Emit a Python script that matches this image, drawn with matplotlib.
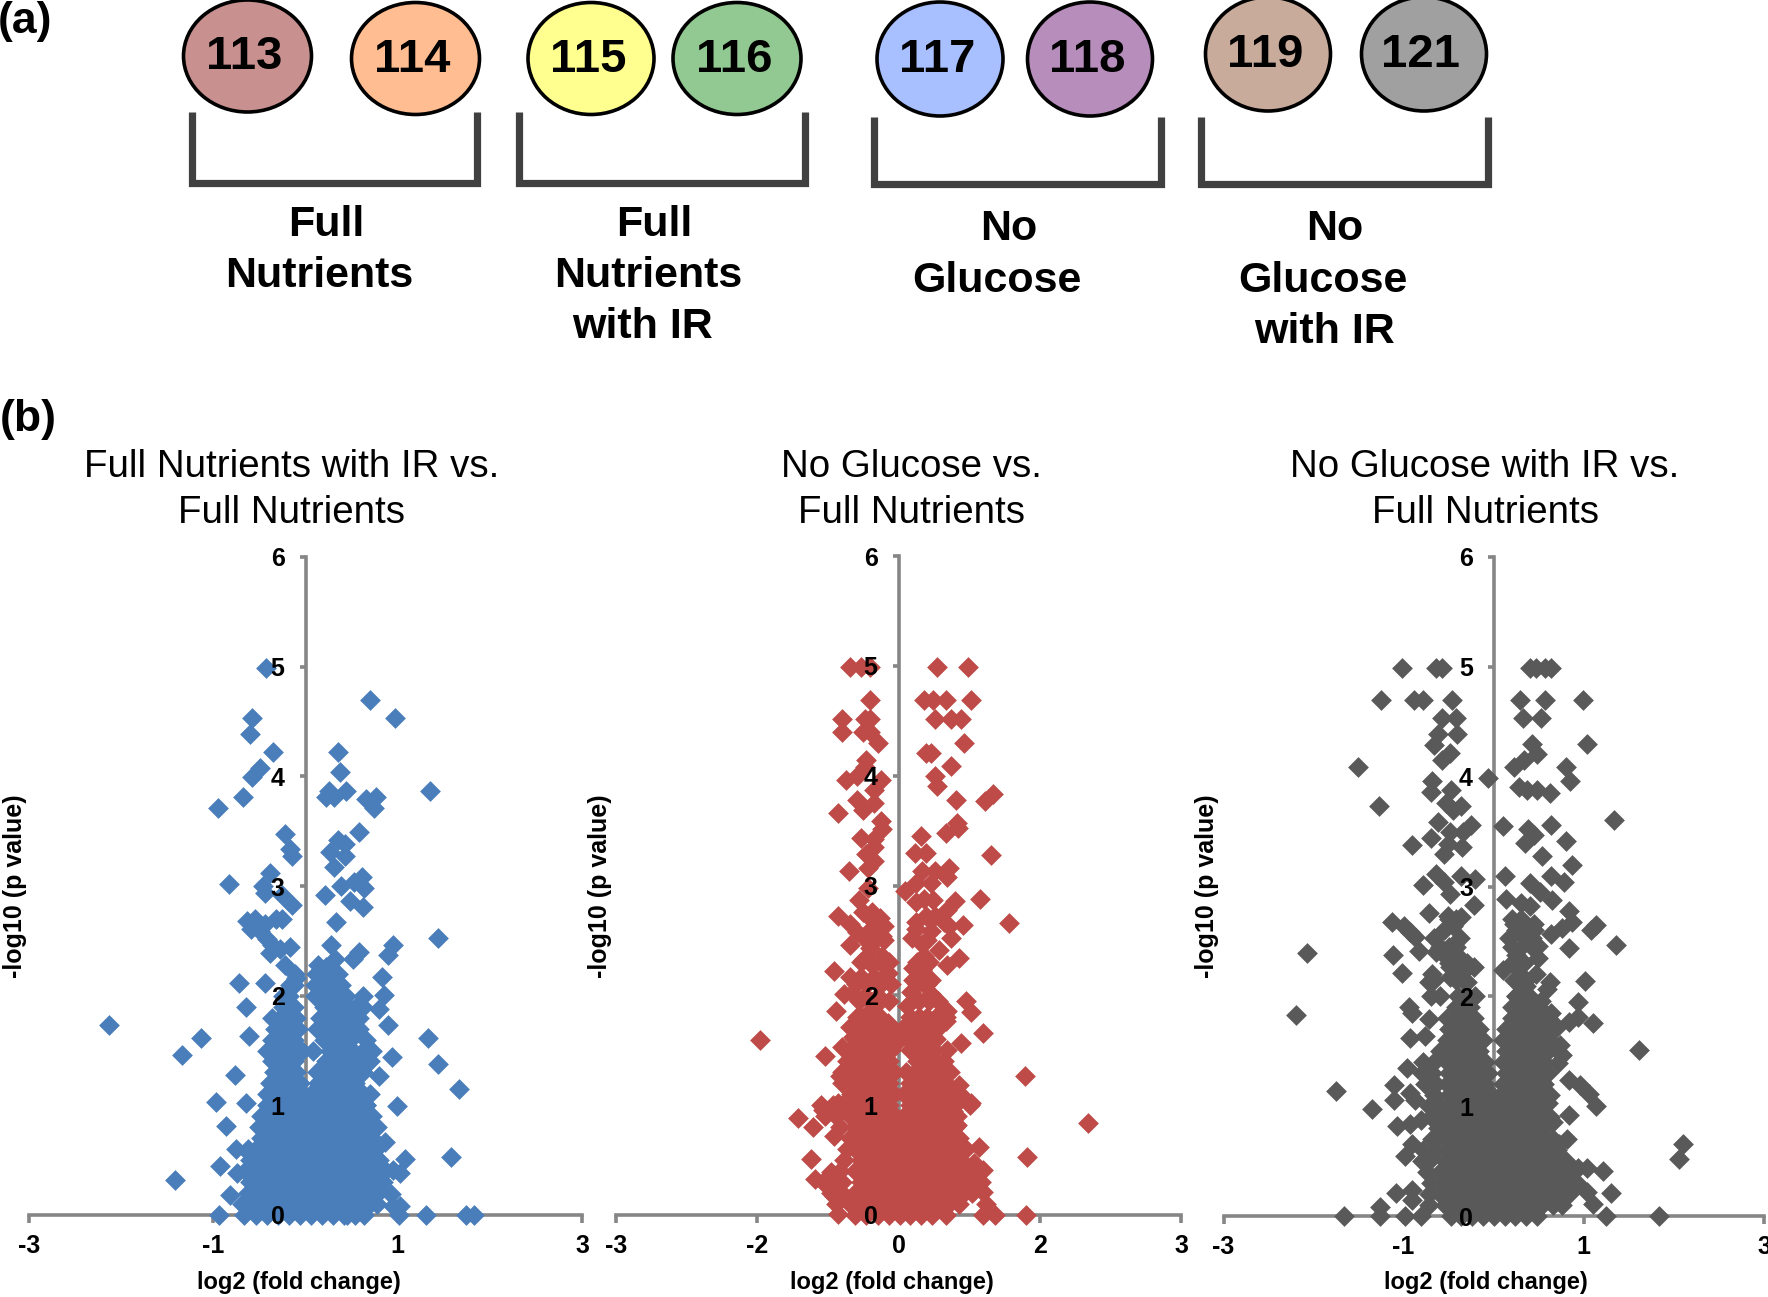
#!/usr/bin/env python
# -*- coding: utf-8 -*-
import numpy as np
import matplotlib
matplotlib.use("Agg")
import matplotlib.pyplot as plt
from matplotlib.patches import Ellipse

plt.rcParams['font.family'] = ['Liberation Sans', 'DejaVu Sans']

W, H = 1768, 1297

# panel (a)
tags = ['113', '114', '115', '116', '117', '118', '119', '121']
tag_colors = ['#C99090', '#FFBD91', '#FFFF8F', '#92C892', '#A8C0FF', '#B78DBB', '#C9AB9B', '#A0A0A0']
groups = [['Full', 'Nutrients'], ['Full', 'Nutrients', 'with IR'],
          ['No', 'Glucose'], ['No', 'Glucose', 'with IR']]

# panel (b)
titles = [['Full Nutrients with IR vs.', 'Full Nutrients'],
          ['No Glucose vs.', 'Full Nutrients'],
          ['No Glucose with IR vs.', 'Full Nutrients']]
colors = ['#4A7EBB', '#BE4B48', '#595959']
xticks = [[-3, -1, 1, 3], [-3, -1.5, 0, 1.5, 3], [-3, -1, 1, 3]]
xticklabels = [['-3', '-1', '1', '3'], ['-3', '-2', '0', '2', '3'], ['-3', '-1', '1', '3']]

# scattered points, read one by one
x1 = [-2.13,-1.42,-1.34,-1.13,-.95,-.83,-.97,-.86,-.93,-.94,-.77,-.65,-.72,-.65,-.61,-.44,-.68,-.58,-.49,-.60,-.58,-.35,-.43,
      -.22,-.17,-.15,-.38,-.46,-.44,-.26,-.145,-.26,-.32,-.63,-.55,-.59,-.44,-.49,-.42,-.36,-.28,-.17,-.38,-.22,-.1,
      .70,.975,.35,.37,1.35,.25,.22,.31,.44,.66,.77,.74,.58,.35,.43,.27,.43,.31,.39,.53,.61,.63,.21,.48,.62,.33,.28,.95,1.44,.89,.58,.52,.14,.22,.32,.83,.85,.8,.9,
      1.33,1.44,1.67,.94,.8,.99,1.58,1.08,1.31,1.74,1.83,
      -.75,-.63,-.74,-.82,-.69,-.67,.86,.95,1.02,.93,1.03,.95,1.01,.63,.45,.8,.78,.86,.7,.66,.6]
y1 = [1.73,.32,1.46,1.61,3.71,3.02,1.03,.81,.45,0,1.28,1.02,2.12,1.9,1.63,2.12,3.81,3.99,4.08,4.39,4.53,4.22,4.99,
      3.47,3.34,3.27,3.12,3.0,2.94,2.92,2.83,2.7,2.7,2.68,2.7,2.61,2.65,2.59,2.52,2.46,2.43,2.44,2.39,2.28,2.16,
      4.7,4.53,4.22,4.04,3.87,3.87,3.81,3.81,3.87,3.79,3.81,3.71,3.49,3.42,3.38,3.31,3.27,3.17,3.0,3.04,3.08,2.98,2.92,2.86,2.81,2.67,2.46,2.46,2.53,2.37,2.4,2.33,2.28,2.26,2.33,2.17,2.01,1.88,1.73,
      1.61,1.38,1.15,1.44,1.27,.99,.53,.51,0,0,0,
      .6,.58,.38,.18,.1,0,.41,.41,.38,.19,.08,.08,0,0,0,.21,.8,.67,1.1,1.0,1.3]

x2 = [-1.47,-.78,-1.07,-.91,-.93,-.89,-.69,2.01,1.34,1.36,1.35,1.17,.98,.87,1.0,.92,.74,.77,.41,.27,.37,.5,.39,.56,.66,.7,
      .29,.35,.56,.39,.41,.61,.62,.63,.5,.24,.17,.29,.25,.39,.54,.52,.19,.35,.07,.19,.27,.37,.6,.52,.68,.29,.19,.39,.48,.54,.19,.35,.56,.14,.25,.43,.27,.64,.52,
      .15,.25,.35,.15,.27,.13,.35,.09,.72,.77,.52,.5,.9,.03,.66,.52,
      -.52,-.4,-.3,-.3,-.6,-.6,-.36,-.3,-.38,-.3,-.22,-.34,-.36,-.44,-.56,-.19,-.26,-.44,-.26,-.38,-.64,-.19,-.17,-.4,-.26,-.26,-.34,-.26,-.32,-.53,-.32,-.42,-.38,
      -.28,-.22,-.64,-.52,-.15,-.44,-.28,-.17,-.52,-.3,-.17,-.38,-.28,-.69,-.52,-.11,-.26,-.4,-.19,-.58,-.49,-.36,-.22,-.66,-.3,-.44,-.11,-.52,-.36,
      .9,.93,.9,1.02,.85,.9,.8,.77,.64,.62,.58,-.8,-.64,-.62,-.72,-.68,-.64,-.6,-.48]
y2 = [1.59,1.45,.88,.8,.51,.33,.72,.84,1.27,.53,0,2.66,3.28,2.88,3.83,3.77,4.99,4.69,4.99,4.69,4.69,4.69,4.52,4.52,4.52,4.3,
      4.21,4.21,4.09,4.0,3.91,3.78,3.57,3.52,3.48,3.45,3.3,3.3,3.13,3.13,3.16,3.08,3.02,3.02,2.95,2.85,2.88,2.87,2.86,2.78,2.64,2.72,2.67,2.72,2.67,2.63,2.6,2.59,2.52,2.52,2.47,2.41,2.36,2.34,2.28,
      2.25,2.23,2.14,2.14,2.1,2.03,2.01,1.9,1.95,1.85,1.86,1.77,1.66,1.66,1.57,1.5,
      4.99,4.99,4.99,4.69,4.52,4.4,4.52,4.52,4.4,4.4,4.3,4.14,4.08,4.0,3.96,3.96,3.87,3.78,3.75,3.69,3.66,3.59,3.51,3.43,3.42,3.35,3.29,3.22,3.16,3.13,2.98,2.87,2.76,
      2.76,2.69,2.72,2.65,2.63,2.58,2.61,2.54,2.46,2.43,2.36,2.32,2.28,2.22,2.17,2.2,2.17,2.17,2.1,2.01,2.02,1.99,1.99,1.86,1.86,1.8,1.75,1.71,1.75,
      .21,.1,0,0,.62,.41,.47,1.02,1.18,.82,.95,.96,1.02,1.27,.39,.17,.01,1.53,1.62]

x3 = [-2.07,-2.19,-1.75,-1.35,-1.66,-1.26,-1.26,-1.09,-1.51,-1.27,-1.25,-1.02,-.89,-.79,-.46,-.64,-.57,-.57,-.42,-.41,-.62,-.66,-.49,-.57,-.69,-.7,-.48,-.53,-.36,-.45,-.62,-.25,-.34,-.49,-.7,-.51,-.91,-.35,-.55,
      -.64,-.36,-.21,-.79,-.55,-.49,-.22,-.72,-.36,-.51,-1.13,-1.0,-.93,-.87,-.45,-.55,-.38,-.66,-.83,-1.12,-.64,-.55,-.38,-1.02,-.22,-.49,-.34,-.68,-.72,-.49,-.3,-.7,-.21,-.94,-.91,-.72,-.93,-.76,-.96,-1.11,-1.11,-.93,-.87,-1.07,-.93,-.81,-.91,-.98,-.91,-.91,-.98,-.81,
      .4,.47,.57,.64,.29,.57,.99,.33,.52,1.03,.42,.48,.34,.23,.8,.85,-.06,.28,.37,.48,.62,1.34,.1,.63,.38,.45,.35,.8,.54,.87,.12,.64,.78,.4,.51,.14,.65,.3,.4,.83,.23,.45,.87,1.13,1.08,.76,.64,.17,.3,.42,1.36,.83,.49,.25,.49,.1,.28,.47,1.01,.62,.59,.3,.36,.25,.42,.53,.94,.32,.64,.94,.83,1.1,.7,1.61,.73,.76,.71,.83,.96,1.06,1.13,.6,.83,.66,.81,.72,2.1,2.06,1.04,1.21,.93,1.3,1.04,1.1,1.25,1.83]
y3 = [2.39,1.83,1.14,.97,0,0,.08,.21,4.09,3.73,4.7,4.99,4.7,4.7,4.7,4.99,4.99,4.53,4.53,4.39,4.39,4.29,4.22,4.15,3.96,3.86,3.88,3.76,3.73,3.7,3.59,3.56,3.5,3.5,3.44,3.39,3.38,3.36,3.3,
      3.11,3.1,3.07,3.01,3.04,2.93,2.83,2.76,2.72,2.73,2.68,2.64,2.59,2.54,2.64,2.6,2.53,2.53,2.41,2.38,2.4,2.38,2.35,2.21,2.27,2.27,2.22,2.2,2.13,2.18,2.13,2.0,2.0,1.9,1.85,1.79,1.62,1.64,1.35,1.19,1.06,1.12,1.06,.82,.84,.87,.66,.55,.24,.15,0,0,
      4.99,4.99,4.99,4.99,4.7,4.7,4.7,4.53,4.53,4.3,4.3,4.21,4.15,4.09,4.09,3.96,3.99,3.91,3.88,3.88,3.85,3.61,3.55,3.56,3.52,3.47,3.4,3.41,3.28,3.2,3.1,3.1,3.04,3.03,2.95,2.89,2.88,2.85,2.82,2.78,2.66,2.66,2.68,2.65,2.6,2.62,2.57,2.53,2.57,2.53,2.47,2.44,2.46,2.38,2.35,2.24,2.27,2.2,2.14,2.13,2.07,2.13,2.09,2.0,1.98,1.96,1.95,1.89,1.85,1.81,1.77,1.76,1.72,1.51,1.56,1.47,1.39,1.24,1.19,1.11,1.0,1.03,.92,.86,.7,.66,.66,.52,.44,.41,.44,.21,.22,.11,0,0]

# dense middle of each volcano, row by row (-log10 p of the row, then the log2 fc read along it)
core_levels1 = [2.2,2.1,2.0,1.9,1.8,1.7,1.6,1.5,1.4,1.3,1.2,1.1,1.0,.9,.8,.7,.6,.5,.4,.3,.2,.1,0]
core_x1 = [[-.11,.11,.2,.25,.35],
           [-.17,-.12,.1,.17,.24,.31,.38],
           [-.24,-.18,.1,.18,.26,.35,.44,.62],
           [-.24,-.18,-.12,.2,.28,.36,.47,.55,.62],
           [-.36,-.28,-.2,-.1,.16,.24,.32,.44,.5,.58],
           [-.33,-.25,-.17,-.08,.13,.22,.3,.42,.5,.58],
           [-.36,-.28,-.2,-.12,.2,.28,.36,.48,.66],
           [-.42,-.3,-.22,-.14,-.04,.08,.27,.35,.45,.52,.62,.72],
           [-.36,-.28,-.2,-.12,.22,.3,.38,.46,.54,.64,.7],
           [-.34,-.26,-.18,-.1,.12,.2,.28,.36,.44,.52,.62],
           [-.38,-.3,-.22,-.14,-.06,.14,.22,.3,.38,.46,.54],
           [-.42,-.34,-.26,-.18,-.1,-.03,.06,.14,.22,.3,.38,.46,.54,.62],
           [-.42,-.3,-.18,-.06,.06,.18,.3,.42,.54,.66],
           [-.48,-.36,-.24,-.12,0,.12,.24,.36,.48,.6,.72],
           [-.5,-.42,-.3,-.18,-.06,.06,.18,.3,.42,.54,.66,.76],
           [-.48,-.36,-.24,-.12,0,.12,.24,.36,.48,.6,.72],
           [-.62,-.54,-.42,-.3,-.18,-.06,.06,.18,.3,.42,.54,.66,.76],
           [-.6,-.48,-.36,-.24,-.12,0,.12,.24,.36,.48,.6,.72,.8],
           [-.66,-.54,-.42,-.3,-.18,-.06,.06,.18,.3,.42,.54,.66,.78,.86],
           [-.6,-.48,-.36,-.24,-.12,0,.12,.24,.36,.48,.6,.72,.84],
           [-.62,-.54,-.42,-.3,-.18,-.06,.06,.18,.3,.42,.54,.66,.76],
           [-.6,-.48,-.36,-.24,-.12,0,.12,.24,.36,.48,.6,.7,.78],
           [-.54,-.42,-.3,-.18,-.06,.06,.18,.3,.42,.54]]

core_levels2 = [2.7,2.5,2.3,2.1,1.95,1.8,1.7,1.6,1.5,1.4,1.3,1.2,1.1,1.0,.9,.8,.7,.6,.5,.4,.3,.2,.1,0]
core_x2 = [[-.3,-.2],
           [-.35,-.25,-.15,.3],
           [-.4,-.3,-.2,-.1,.2,.32],
           [-.45,-.33,-.2,-.08,.2,.3],
           [-.42,-.3,-.2,-.1,.22,.32,.42],
           [-.4,-.3,-.2,.12,.22,.3,.4,.5],
           [-.4,-.3,-.2,-.1,.05,.15,.25,.35,.42],
           [-.46,-.34,-.22,-.1,.02,.1,.2,.3,.4],
           [-.5,-.4,-.28,-.16,-.08,.12,.2,.3,.38],
           [-.55,-.46,-.34,-.22,-.1,.2,.3,.4,.48],
           [-.6,-.5,-.4,-.28,-.16,-.05,.08,.18,.28,.38,.46,.55],
           [-.6,-.46,-.34,-.22,-.1,.12,.22,.32,.42,.5],
           [-.5,-.4,-.28,-.16,-.05,.06,.18,.3,.42,.55,.65],
           [-.82,-.7,-.6,-.46,-.34,-.22,-.1,.12,.24,.36,.48,.6,.76],
           [-.78,-.66,-.52,-.4,-.28,-.16,-.04,.06,.18,.3,.42,.56,.62],
           [-.62,-.46,-.34,-.22,-.1,.02,.12,.24,.36,.48,.6],
           [-.52,-.4,-.28,-.16,-.04,.06,.18,.3,.42,.54,.64],
           [-.55,-.46,-.34,-.22,-.1,.02,.12,.24,.36,.48,.6,.72],
           [-.58,-.4,-.28,-.16,-.04,.06,.18,.3,.42,.54,.66],
           [-.62,-.46,-.34,-.22,-.1,.02,.12,.24,.36,.48,.6,.7,.8,.86],
           [-.8,-.7,-.6,-.4,-.28,-.16,-.04,.06,.18,.3,.42,.54,.66,.76,.88],
           [-.72,-.6,-.46,-.34,-.22,-.1,.02,.12,.24,.36,.48,.6,.7,.78],
           [-.66,-.52,-.4,-.28,-.16,-.04,.06,.18,.3,.42,.54,.64],
           [-.46,-.34,-.22,-.1,.02,.12,.24,.36,.5]]

core_levels3 = [2.7,2.6,2.45,2.3,2.15,2.0,1.9,1.8,1.7,1.6,1.5,1.4,1.3,1.2,1.1,1.0,.9,.8,.7,.6,.5,.4,.3,.2,.1,0]
core_x3 = [[-.5,-.42,.2,.3],
           [.25,.35,.45],
           [-.6,-.5,-.42,.2,.3,.42],
           [-.5,-.4,-.3,.2,.26,.34],
           [-.66,-.42,-.34,.22,.3,.36],
           [-.6,-.4,-.3,.25,.32],
           [-.42,-.34,-.26,.2,.3,.4,.5],
           [-.52,-.42,-.32,-.22,.2,.3,.42,.5,.6],
           [-.5,-.38,-.26,-.16,.14,.26,.38,.5,.58],
           [-.52,-.42,-.32,-.2,-.12,.1,.2,.32,.44,.56,.62],
           [-.6,-.5,-.38,-.26,-.16,.14,.26,.38,.5,.6],
           [-.78,-.66,-.52,-.42,-.32,-.2,-.1,.1,.2,.32,.44,.56],
           [-.8,-.68,-.5,-.38,-.26,-.14,-.06,.14,.26,.38,.5,.6],
           [-.76,-.64,-.52,-.4,-.3,-.2,-.1,.1,.2,.32,.44,.56],
           [-.66,-.5,-.38,-.26,-.14,-.02,.08,.14,.26,.38,.5,.62],
           [-.72,-.6,-.48,-.36,-.24,-.12,0,.1,.2,.32,.44,.56],
           [-.7,-.54,-.42,-.3,-.18,-.06,.06,.18,.3,.42,.54,.62],
           [-.62,-.48,-.36,-.24,-.12,0,.12,.24,.36,.48,.56],
           [-.68,-.54,-.42,-.3,-.18,-.06,.06,.18,.3,.42,.54,.66],
           [-.78,-.64,-.48,-.36,-.24,-.12,0,.12,.24,.36,.48,.6,.7],
           [-.8,-.72,-.54,-.42,-.3,-.18,-.06,.06,.18,.3,.42,.54,.66,.8],
           [-.74,-.6,-.48,-.36,-.24,-.12,0,.12,.24,.36,.48,.6,.72,.84],
           [-.7,-.54,-.42,-.3,-.18,-.06,.06,.18,.3,.42,.54,.66,.78,.92],
           [-.72,-.6,-.48,-.36,-.24,-.12,0,.12,.24,.36,.48,.6,.72,.84],
           [-.72,-.54,-.42,-.3,-.18,-.06,.06,.18,.3,.42,.54,.66,.76],
           [-.48,-.36,-.24,-.12,0,.12,.24,.36,.48]]

scatter_x = [x1, x2, x3]
scatter_y = [y1, y2, y3]
core_levels = [core_levels1, core_levels2, core_levels3]
core_x = [core_x1, core_x2, core_x3]


def px_rect(left, right, top, bottom):
    return [left / W, 1 - bottom / H, (right - left) / W, (bottom - top) / H]


fig = plt.figure(figsize=(W / 100, H / 100), dpi=100)

# whole figure canvas in pixels, for the diagram and the loose texts
canvas = fig.add_axes([0, 0, 1, 1])
canvas.set_xlim(0, W)
canvas.set_ylim(H, 0)
canvas.axis('off')

tag_x = [247.5, 415.5, 591, 737, 940, 1090, 1268, 1424]
tag_y = [56, 58.5, 58.5, 58.5, 59, 59, 54, 54]
tag_w = [128, 128, 126, 128, 126, 125, 125, 125]
tag_h = [112, 112, 112, 112, 114, 114, 114, 114]
for i in range(len(tags)):
    canvas.add_patch(Ellipse((tag_x[i], tag_y[i]), tag_w[i], tag_h[i], facecolor=tag_colors[i],
                             edgecolor='black', lw=2.6, clip_on=False))
    canvas.text(tag_x[i] - 3, tag_y[i] + 1, tags[i], fontsize=34, fontweight='bold', ha='center', va='center')

br_left = [192, 519, 874, 1201]
br_right = [477, 805, 1161, 1488]
br_top = [112, 112, 117, 117]
br_bottom = [183, 183, 184, 184]
for i in range(4):
    canvas.plot([br_left[i], br_left[i], br_right[i], br_right[i]],
                [br_top[i], br_bottom[i], br_bottom[i], br_top[i]],
                color='#404040', lw=5.2, solid_joinstyle='miter', solid_capstyle='butt')

group_x = [[326, 319], [654, 648, 643], [1009, 997], [1335, 1323, 1324]]
group_y = [[225, 276], [225, 276, 327], [229, 281], [229, 281, 332]]
for i in range(4):
    for j in range(len(groups[i])):
        canvas.text(group_x[i][j], group_y[i][j], groups[i][j], fontsize=31, fontweight='bold',
                    ha='center', va='center')

canvas.text(25, 21, '(a)', fontsize=32, fontweight='bold', ha='center', va='center')
canvas.text(28, 419, '(b)', fontsize=32, fontweight='bold', ha='center', va='center')

# panel positions in pixels: x=-3, x=3, y=6, y=0
panel_left = [29, 616, 1223.5]
panel_right = [582, 1181, 1764]
panel_top = [557, 556, 557]
panel_bottom = [1215, 1215, 1216]
title_x = [292, 911, 1485]
xlabel_x = [299, 892, 1486]
ylabel_x = [15, 600, 1207]

for i in range(3):
    rect = px_rect(panel_left[i], panel_right[i], panel_top[i], panel_bottom[i])

    # axis lines and ticks go under the points, the numbers go over them
    base = fig.add_axes(rect)
    base.set_xlim(-3, 3)
    base.set_ylim(0, 6)
    base.patch.set_visible(False)
    base.spines['top'].set_visible(False)
    base.spines['right'].set_visible(False)
    base.spines['left'].set_position(('data', 0))
    base.spines['left'].set_color('#868686')
    base.spines['left'].set_linewidth(2.6)
    base.spines['bottom'].set_color('#868686')
    base.spines['bottom'].set_linewidth(2.6)
    base.set_xticks(xticks[i])
    base.set_yticks(range(7))
    base.tick_params(axis='x', length=5.8, width=2.6, color='#868686', labelbottom=False)
    base.tick_params(axis='y', length=4.3, width=2.6, color='#868686', labelleft=False)

    ax = fig.add_axes(rect)
    ax.patch.set_visible(False)
    for side in ax.spines:
        ax.spines[side].set_visible(False)
    ax.spines['left'].set_position(('data', 0))
    px = list(scatter_x[i])
    py = list(scatter_y[i])
    for level, row in zip(core_levels[i], core_x[i]):
        px += row
        py += [level] * len(row)
    ax.scatter(px, py, marker='D', s=112, color=colors[i], linewidths=0, clip_on=False, zorder=3)
    ax.set_xlim(-3, 3)
    ax.set_ylim(0, 6)
    ax.set_xticks(xticks[i])
    ax.set_xticklabels(xticklabels[i])
    ax.set_yticks(range(7))
    ax.yaxis.set_zorder(5)
    ax.xaxis.set_zorder(5)
    ax.tick_params(axis='x', length=0, pad=14, labelsize=18)
    ax.tick_params(axis='y', length=0, pad=15, labelsize=18)
    for lab in ax.get_xticklabels() + ax.get_yticklabels():
        lab.set_fontweight('bold')

    canvas.text(title_x[i], 467, titles[i][0], fontsize=27.7, ha='center', va='center')
    canvas.text(title_x[i], 513, titles[i][1], fontsize=27.7, ha='center', va='center')
    canvas.text(xlabel_x[i], 1283, 'log2 (fold change)', fontsize=17, fontweight='bold', ha='center', va='center')
    canvas.text(ylabel_x[i], 886, '-log10 (p value)', fontsize=18, fontweight='bold', rotation=90,
                ha='center', va='center')

fig.savefig('out.png', dpi=100)
